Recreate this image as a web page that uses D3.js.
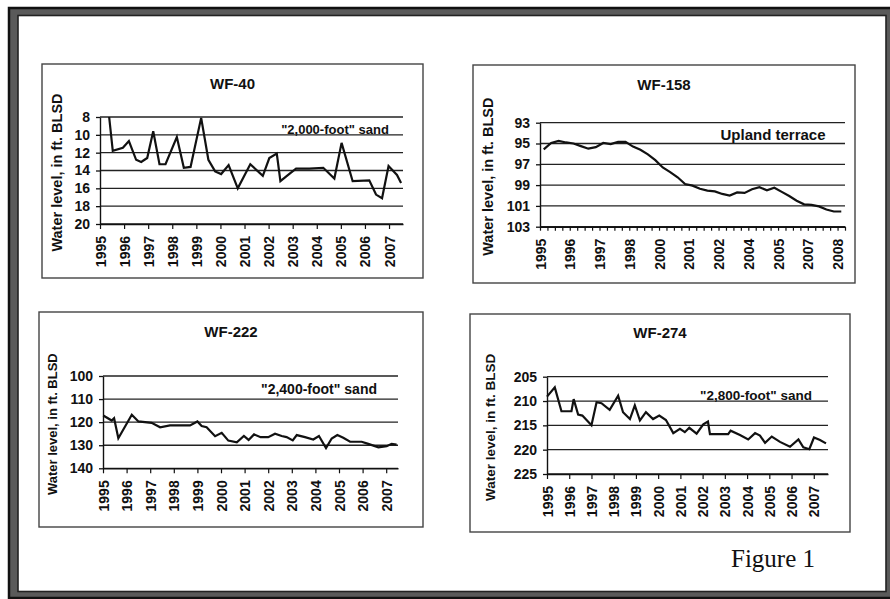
<!DOCTYPE html>
<html>
<head>
<meta charset="utf-8">
<script src="https://cdn.jsdelivr.net/npm/d3@7"></script>
<style>
  body { margin: 0; background: #fff; }
  svg { display: block; }
  text { font-family: "Liberation Sans", Arial, sans-serif; font-weight: bold; fill: #111; }
</style>
</head>
<body>
<svg id="fig" width="890" height="599"></svg>
<script>
// ---- Well WF-40 ("2,000-foot" sand) : decimal year, depth to water (ft BLSD)
const wf40Dates  = [1995.38, 1995.53, 1995.95, 1996.20, 1996.50, 1996.71, 1996.96, 1997.21, 1997.47, 1997.72,
                    1998.19, 1998.48, 1998.76, 1999.20, 1999.50, 1999.78, 2000.03, 2000.34, 2000.72, 2001.24,
                    2001.76, 2002.03, 2002.34, 2002.49, 2002.85, 2003.14, 2003.69, 2004.27, 2004.73, 2005.03,
                    2005.49, 2006.18, 2006.46, 2006.71, 2006.98, 2007.33, 2007.50];
const wf40Levels = [8.0, 11.8, 11.45, 10.7, 12.8, 13.05, 12.6, 9.6, 13.3, 13.3,
                    10.25, 13.7, 13.6, 8.1, 12.8, 14.1, 14.4, 13.4, 16.0, 13.3,
                    14.6, 12.6, 12.1, 15.2, 14.4, 13.8, 13.8, 13.7, 14.9, 10.9,
                    15.2, 15.1, 16.7, 17.1, 13.5, 14.5, 15.4];
const wf40YTicks = [8, 10, 12, 14, 16, 18, 20];

// ---- Well WF-158 (Upland terrace) : one value per measurement, category axis
const wf158Levels = [95.56, 94.95, 94.75, 94.9, 95.0, 95.25, 95.5, 95.35, 94.95, 95.05,
                     94.85, 94.85, 95.3, 95.6, 96.05, 96.6, 97.3, 97.75, 98.25, 98.9,
                     99.05, 99.35, 99.53, 99.6, 99.85, 100.0, 99.7, 99.75, 99.4, 99.2,
                     99.5, 99.25, 99.65, 100.05, 100.5, 100.85, 100.9, 101.05, 101.35, 101.54,
                     101.54];
const wf158Labels = ["1995", "1996", "1997", "1998", "2000", "2001", "2002", "2004", "2005", "2007", "2008"];
const wf158LabelEvery = 4;
const wf158YTicks = [93, 95, 97, 99, 101, 103];

// ---- Well WF-222 ("2,400-foot" sand)
const wf222Dates  = [1995.01, 1995.37, 1995.47, 1995.65, 1996.22, 1996.50, 1997.06, 1997.42, 1997.84, 1998.69,
                     1999.00, 1999.18, 1999.39, 1999.75, 2000.03, 2000.31, 2000.67, 2000.97, 2001.17, 2001.40,
                     2001.68, 2002.00, 2002.29, 2002.57, 2002.78, 2003.04, 2003.21, 2003.56, 2003.91, 2004.15,
                     2004.45, 2004.69, 2004.93, 2005.18, 2005.47, 2005.96, 2006.24, 2006.67, 2007.02, 2007.23,
                     2007.44];
const wf222Levels = [117.1, 119.3, 118.3, 127.0, 116.8, 119.7, 120.3, 122.2, 121.4, 121.4,
                     119.7, 121.7, 122.2, 126.1, 124.6, 128.0, 128.7, 126.0, 127.7, 125.3,
                     126.5, 126.5, 125.0, 126.0, 126.5, 127.9, 125.6, 126.5, 127.5, 126.0,
                     131.2, 127.1, 125.6, 126.8, 128.5, 128.5, 129.4, 130.9, 130.4, 129.4,
                     129.7];
const wf222YTicks = [100, 110, 120, 130, 140];

// ---- Well WF-274 ("2,800-foot" sand)
const wf274Dates  = [1995.00, 1995.35, 1995.65, 1996.10, 1996.20, 1996.40, 1996.59, 1997.00, 1997.23, 1997.45,
                     1997.82, 1998.20, 1998.42, 1998.73, 1998.95, 1999.18, 1999.45, 1999.77, 2000.05, 2000.35,
                     2000.68, 2000.98, 2001.20, 2001.40, 2001.73, 2002.03, 2002.24, 2002.33, 2003.15, 2003.26,
                     2003.68, 2004.05, 2004.36, 2004.58, 2004.81, 2005.11, 2005.48, 2005.93, 2006.31, 2006.53,
                     2006.80, 2007.01, 2007.28, 2007.55];
const wf274Levels = [209.1, 207.2, 212.1, 212.1, 209.6, 212.8, 213.0, 215.0, 210.25, 210.45,
                     211.8, 208.9, 212.3, 213.7, 210.9, 214.0, 212.3, 213.7, 213.0, 213.9,
                     216.6, 215.7, 216.4, 215.5, 216.7, 214.8, 214.2, 216.8, 216.8, 216.1,
                     217.0, 217.9, 216.6, 217.1, 218.6, 217.3, 218.4, 219.4, 217.9, 219.5,
                     219.9, 217.5, 218.0, 218.7];
const wf274YTicks = [205, 210, 215, 220, 225];

const yearTicks = d3.range(1995, 2008);

const svg = d3.select("#fig");
const ink = "#111";

// ---- page frame: double rule with dark band
svg.append("rect").attr("x", 9).attr("y", 8).attr("width", 890).attr("height", 590)
  .attr("fill", "#5a5a5a").attr("stroke", "#111").attr("stroke-width", 2.5);
svg.append("rect").attr("x", 18).attr("y", 15.5).attr("width", 868).attr("height", 576)
  .attr("fill", "#fff").attr("stroke", "#222").attr("stroke-width", 1.6);

const panels = [
  { title: "WF-40", note: "\"2,000-foot\" sand", noteSize: 13,
    box: [42, 64, 423, 278], plot: [100, 403, 117, 224], titleY: 88.5, noteX: 335, noteY: 133.5,
    yTitleX: 57, yTitleSize: 14.5,
    dates: wf40Dates, levels: wf40Levels, yTicks: wf40YTicks, xDomain: [1995, 2007.58] },
  { title: "WF-158", note: "Upland terrace", noteSize: 15,
    box: [473, 65, 855, 283], plot: [540, 845, 122.7, 226.7], titleY: 90, noteX: 773, noteY: 139.5,
    yTitleX: 488, yTitleSize: 14.5, category: true,
    levels: wf158Levels, yTicks: wf158YTicks },
  { title: "WF-222", note: "\"2,400-foot\" sand", noteSize: 14,
    box: [39, 312, 423, 527], plot: [103, 398, 376, 468.3], titleY: 336.5, noteX: 319, noteY: 394,
    yTitleX: 52, yTitleSize: 13,
    dates: wf222Dates, levels: wf222Levels, yTicks: wf222YTicks, xDomain: [1995, 2007.5] },
  { title: "WF-274", note: "\"2,800-foot\" sand", noteSize: 13.5,
    box: [470, 314, 850, 532], plot: [547, 828, 376.7, 474], titleY: 337.5, noteX: 756, noteY: 400,
    yTitleX: 490, yTitleSize: 13.5,
    dates: wf274Dates, levels: wf274Levels, yTicks: wf274YTicks, xDomain: [1995, 2007.64] }
];

panels.forEach(p => {
  const g = svg.append("g");
  const [bx0, by0, bx1, by1] = p.box;
  const [px0, px1, py0, py1] = p.plot;

  g.append("rect").attr("x", bx0).attr("y", by0).attr("width", bx1 - bx0).attr("height", by1 - by0)
    .attr("fill", "#fff").attr("stroke", "#444").attr("stroke-width", 1.4);

  g.append("text").attr("x", (bx0 + bx1) / 2).attr("y", p.titleY)
    .attr("text-anchor", "middle").attr("font-size", 15).text(p.title);

  const y = d3.scaleLinear().domain([p.yTicks[0], p.yTicks[p.yTicks.length - 1]]).range([py0, py1]);

  let x, xAxis, pts;
  if (p.category) {
    const n = p.levels.length;
    x = d3.scaleLinear().domain([0, n]).range([px0, px1]);
    pts = p.levels.map((v, i) => [x(i + 0.5), y(v)]);
    xAxis = d3.axisBottom(x).tickValues(d3.range(0, n + 1)).tickSize(4).tickSizeOuter(0)
      .tickFormat(i => (i % wf158LabelEvery === 0 && wf158Labels[i / wf158LabelEvery]) ? wf158Labels[i / wf158LabelEvery] : "");
  } else {
    x = d3.scaleLinear().domain(p.xDomain).range([px0, px1]);
    pts = p.dates.map((d, i) => [x(d), y(p.levels[i])]);
    xAxis = d3.axisBottom(x).tickValues(yearTicks).tickSize(5).tickSizeOuter(0).tickFormat(d3.format("d"));
  }

  // horizontal gridlines
  g.append("g").selectAll("line").data(p.yTicks).join("line")
    .attr("x1", px0).attr("x2", px1).attr("y1", d => y(d)).attr("y2", d => y(d))
    .attr("stroke", "#222").attr("stroke-width", 1.3);

  // y axis
  const ya = g.append("g").attr("transform", `translate(${px0},0)`)
    .call(d3.axisLeft(y).tickValues(p.yTicks).tickSize(4).tickSizeOuter(0).tickPadding(6));
  ya.attr("color", ink);
  ya.select(".domain").attr("stroke-width", 1.4);
  ya.selectAll(".tick line").attr("stroke-width", 1.3);
  ya.selectAll("text").attr("font-size", 14).attr("font-family", null).attr("fill", ink);

  // x axis with upright (rotated) year labels
  const xa = g.append("g").attr("transform", `translate(0,${py1})`).call(xAxis);
  xa.attr("color", ink);
  xa.select(".domain").attr("stroke-width", 1.4);
  xa.selectAll(".tick line").attr("stroke-width", 1.2);
  xa.selectAll("text").attr("font-size", 14).attr("font-family", null).attr("fill", ink)
    .attr("transform", "rotate(-90)").attr("text-anchor", "end")
    .attr("x", -12).attr("y", 0).attr("dy", "0.36em");

  // water-level trace
  g.append("path").datum(pts)
    .attr("d", d3.line())
    .attr("fill", "none").attr("stroke", "#111").attr("stroke-width", 2.2)
    .attr("stroke-linejoin", "miter");

  g.append("text").attr("x", p.noteX).attr("y", p.noteY).attr("text-anchor", "middle")
    .attr("font-size", p.noteSize).text(p.note);

  const yc = (py0 + py1) / 2 + 2;
  g.append("text").attr("transform", `translate(${p.yTitleX},${yc}) rotate(-90)`)
    .attr("text-anchor", "middle").attr("dy", "0.36em")
    .attr("font-size", p.yTitleSize).text("Water level, in ft. BLSD");
});

svg.append("text").attr("x", 773).attr("y", 567).attr("text-anchor", "middle")
  .style("font-family", "'Liberation Serif', 'Times New Roman', serif").style("font-weight", "normal")
  .attr("font-size", 25).text("Figure 1");
</script>
</body>
</html>
